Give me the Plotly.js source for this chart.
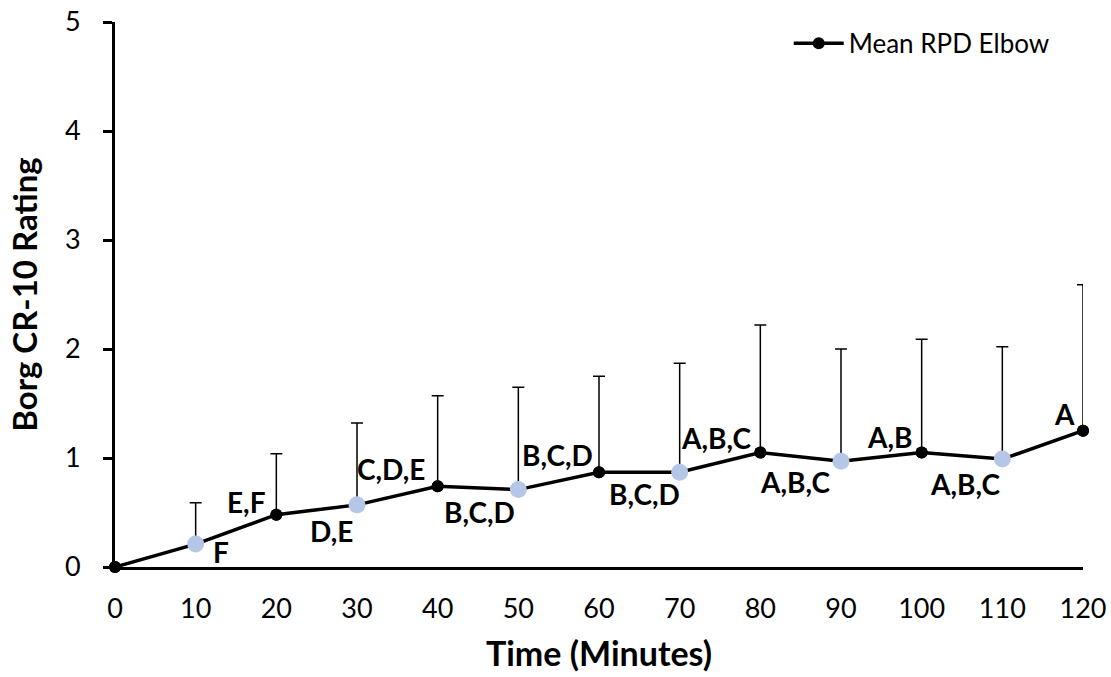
<!DOCTYPE html>
<html>
<head>
<meta charset="utf-8">
<script src="https://cdn.plot.ly/plotly-3.0.1.min.js"></script>
<style>
  html, body { margin: 0; padding: 0; background: #ffffff; }
  #chart { width: 1111px; height: 677px; }
</style>
</head>
<body>
<div id="chart"></div>
<script>
// ---- data ----
var timeMinutes = [0, 10, 20, 30, 40, 50, 60, 70, 80, 90, 100, 110, 120];
var meanRPD     = [0, 0.21, 0.48, 0.57, 0.74, 0.71, 0.87, 0.87, 1.05, 0.97, 1.05, 0.99, 1.25];
var sdRPD       = [0, 0.38, 0.56, 0.75, 0.83, 0.94, 0.88, 1.00, 1.17, 1.03, 1.04, 1.03, 1.34];
var pointGroup  = ['dark','light','dark','light','dark','light','dark','light','dark','light','dark','light','dark'];
var letterLabels = ['', 'F', 'E,F', 'D,E', 'C,D,E', 'B,C,D', 'B,C,D', 'B,C,D', 'A,B,C', 'A,B,C', 'A,B', 'A,B,C', 'A'];
var xTickVals = [0, 10, 20, 30, 40, 50, 60, 70, 80, 90, 100, 110, 120];
var yTickVals = [0, 1, 2, 3, 4, 5];
var seriesName = 'Mean RPD Elbow';

// ---- styles ----
var FONT = 'Lato, "Open Sans", "DejaVu Sans", sans-serif';
var colorFor = {dark: '#000000', light: '#b4c7e7'};
var sizeFor  = {dark: 12, light: 17};
// label placement (pixel offsets relative to the point)
var labelPlace = [
  null,
  {anchor: 'left',  dx: 15,  dy: -8},
  {anchor: 'right', dx: -8,  dy: 13},
  {anchor: 'right', dx: -2,  dy: -26},
  {anchor: 'right', dx: -11, dy: 17},
  {anchor: 'right', dx: -1,  dy: -22},
  {anchor: 'right', dx: -4,  dy: 17},
  {anchor: 'right', dx: 2,   dy: -22},
  {anchor: 'right', dx: -7,  dy: 15},
  {anchor: 'right', dx: -9,  dy: -21},
  {anchor: 'right', dx: -8,  dy: 16},
  {anchor: 'right', dx: 0,   dy: -25},
  {anchor: 'right', dx: -6,  dy: 17}
];

var markerColors = pointGroup.map(function (g) { return colorFor[g]; });
var markerSizes  = pointGroup.map(function (g) { return sizeFor[g]; });

var lineTrace = {
  x: timeMinutes,
  y: meanRPD,
  type: 'scatter',
  mode: 'lines+markers',
  name: seriesName,
  line: {color: '#000000', width: 3.5},
  marker: {color: markerColors, size: 12, line: {width: 0}},
  error_y: {
    type: 'data',
    symmetric: false,
    array: sdRPD,
    arrayminus: sdRPD.map(function () { return 0; }),
    color: '#000000',
    thickness: 1.5,
    width: 6
  },
  cliponaxis: false
};

var markerTrace = {
  x: timeMinutes,
  y: meanRPD,
  type: 'scatter',
  mode: 'markers',
  showlegend: false,
  marker: {color: markerColors, size: markerSizes, opacity: 1, line: {width: 0}},
  cliponaxis: false
};

var annotations = [];
for (var i = 0; i < timeMinutes.length; i++) {
  if (!letterLabels[i]) continue;
  var p = labelPlace[i];
  annotations.push({
    x: timeMinutes[i], y: meanRPD[i], xref: 'x', yref: 'y',
    text: '<b>' + letterLabels[i] + '</b>',
    showarrow: false,
    xanchor: p.anchor, yanchor: 'middle',
    xshift: p.dx, yshift: p.dy,
    font: {family: FONT, size: 28, color: '#000000'}
  });
}

var layout = {
  width: 1111,
  height: 677,
  paper_bgcolor: '#ffffff',
  plot_bgcolor: '#ffffff',
  margin: {l: 115, r: 28, t: 22, b: 110},
  showlegend: true,
  legend: {
    x: 0.696, y: 1.004, xanchor: 'left', yanchor: 'top',
    bgcolor: 'rgba(0,0,0,0)',
    itemwidth: 50,
    font: {family: FONT, size: 26, color: '#000000'}
  },
  xaxis: {
    range: [0, 120],
    tickvals: xTickVals,
    ticktext: xTickVals.map(String),
    showgrid: false,
    zeroline: false,
    showline: true,
    linecolor: '#000000',
    linewidth: 3,
    ticks: '',
    ticklabelstandoff: 16,
    tickfont: {family: FONT, size: 27, color: '#000000'},
    title: {text: '<b>Time (Minutes)</b>', font: {family: FONT, size: 34, color: '#000000'}, standoff: 19}
  },
  yaxis: {
    range: [0, 5],
    tickvals: yTickVals,
    ticktext: yTickVals.map(String),
    showgrid: false,
    zeroline: false,
    showline: true,
    linecolor: '#000000',
    linewidth: 3,
    ticks: 'outside',
    ticklen: 9,
    tickwidth: 3,
    tickcolor: '#000000',
    ticklabelstandoff: 17,
    tickfont: {family: FONT, size: 27, color: '#000000'},
    title: {text: '<b>Borg CR-10 Rating</b>', font: {family: FONT, size: 33, color: '#000000'}, standoff: 18}
  },
  annotations: annotations
};

Plotly.newPlot('chart', [lineTrace, markerTrace], layout, {displayModeBar: false, staticPlot: true});
</script>
</body>
</html>
